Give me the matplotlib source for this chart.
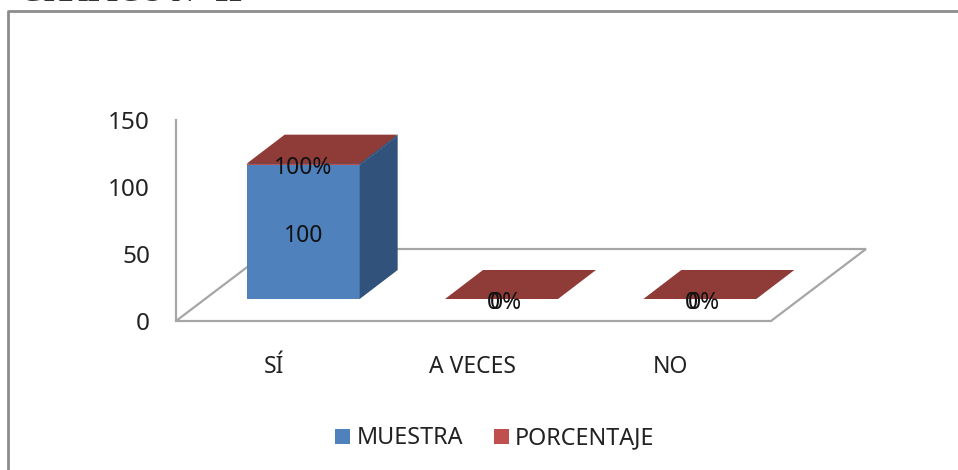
import matplotlib
matplotlib.use("Agg")
import matplotlib.pyplot as plt
from matplotlib.lines import Line2D
from matplotlib.patches import Polygon, Rectangle

categorias = ["SÍ", "A VECES", "NO"]
muestra = [100, 0, 0]
porcentaje = [1, 0, 0]
et_muestra = ["100", "0", "0"]
et_porcentaje = ["100%", "0%", "0%"]
ticks_y = [0, 50, 100, 150]

W, H = 958, 470
plt.rcParams['font.family'] = ['Noto Sans', 'DejaVu Sans']

fig = plt.figure(figsize=(W/100, H/100), dpi=100)

#marco del grafico (solo arriba e izquierda) y titulo cortado
fig.add_artist(Line2D([8/W, 8/W, 1], [0, 1-11/H, 1-11/H], transform=fig.transFigure, color='#8c8c8c', lw=2))
fig.text(20/W, 1-1/H, "GRÁFICO N° 11", family='Liberation Serif', weight='bold', fontsize=22, color='#333333', va='baseline')

#ejes: 0 en y=321, 150 en y=120, suelo frontal de x=176 a x=771
ax = fig.add_axes([176/W, 1-321/H, 595/W, 201/H])
ax.set_xlim(-0.5, 2.5)
ax.set_ylim(0, 150)
ax.axis('off')

px_x = 3/595     #unidades de categoria por pixel
px_y = 150/201   #unidades de valor por pixel

#profundidad del suelo y de las barras
suelo_dx, suelo_dy = 95*px_x, 72*px_y
base_dx, base_dy = 28*px_x, 22*px_y
prof_dx, prof_dy = 38*px_x, 29*px_y
ancho = 113*px_x

gris = '#a6a6a6'
suelo = [(-0.5, 0), (2.5, 0), (2.5+suelo_dx, suelo_dy), (-0.5+suelo_dx, suelo_dy)]
ax.add_patch(Polygon(suelo, closed=True, fill=False, ec=gris, lw=1.6, clip_on=False, zorder=1))
ax.plot([-0.5, -0.5], [0, 150], color=gris, lw=1.6, clip_on=False, zorder=1)


def caja(x0, abajo, arriba, frente, lado, tapa):
    x1 = x0 + ancho
    ax.add_patch(Rectangle((x0, abajo), ancho, arriba-abajo, fc=frente, ec='none', clip_on=False, zorder=3))
    ax.add_patch(Polygon([(x1, abajo), (x1+prof_dx, abajo+prof_dy), (x1+prof_dx, arriba+prof_dy), (x1, arriba)],
                         closed=True, fc=lado, ec='none', clip_on=False, zorder=3))
    ax.add_patch(Polygon([(x0, arriba), (x1, arriba), (x1+prof_dx, arriba+prof_dy), (x0+prof_dx, arriba+prof_dy)],
                         closed=True, fc=tapa, ec='none', clip_on=False, zorder=3))


for i in range(len(categorias)):
    x0 = i - ancho/2 + base_dx
    m, p = muestra[i], porcentaje[i]
    if m > 0:
        caja(x0, base_dy, base_dy+m, '#4F81BD', '#31527A', '#3A5F8C')
        caja(x0, base_dy+m, base_dy+m+p, '#C0504D', '#31527A', '#8F3B38')
        desp_m, desp_p = 0, 0
    else:
        caja(x0, base_dy, base_dy, '#C0504D', '#31527A', '#8F3B38')
        desp_m, desp_p = -8*px_x, 4*px_x
    cx = x0 + ancho/2
    ax.text(cx+desp_m, base_dy + m/2 - 4*px_y, et_muestra[i], ha='center', va='center', fontsize=16.5, color='#111111', zorder=5)
    ax.text(cx+desp_p, base_dy + m + p/2 - 4*px_y, et_porcentaje[i], ha='center', va='center', fontsize=16.5, color='#111111', zorder=5)
    ax.text(i - 1*px_x, -46*px_y, categorias[i], ha='center', va='center', fontsize=16.5, color='#222222', clip_on=False)

for t in ticks_y:
    ax.text(-0.5-26*px_x, t - 3*px_y, str(t), ha='right', va='center', fontsize=17.5, color='#222222', clip_on=False)

#leyenda
fig.add_artist(Rectangle((335/W, 1-444/H), 15/W, 15/H, transform=fig.transFigure, fc='#4F81BD', ec='none'))
fig.text(357/W, 1-438/H, "MUESTRA", fontsize=16.8, color='#222222', va='center')
fig.add_artist(Rectangle((494/W, 1-444/H), 15/W, 15/H, transform=fig.transFigure, fc='#C0504D', ec='none'))
fig.text(515/W, 1-438/H, "PORCENTAJE", fontsize=16.8, color='#222222', va='center')

fig.savefig('out.png', dpi=100)
